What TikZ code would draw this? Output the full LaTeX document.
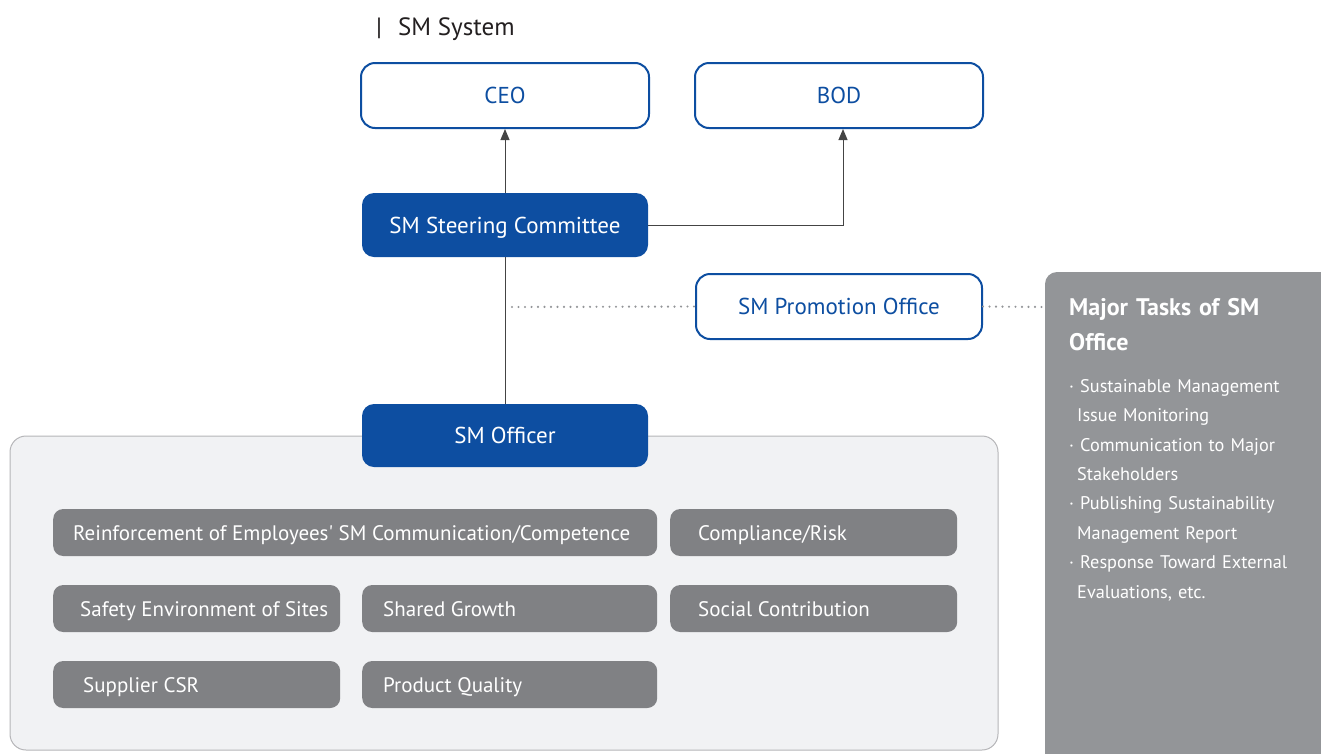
\documentclass[tikz,border=0pt]{standalone}
\usepackage{fontspec}
\setmainfont{PT Sans}
\usetikzlibrary{arrows.meta}
\definecolor{smblue}{HTML}{0D4EA1}
\definecolor{gboxc}{HTML}{808184}
\definecolor{tpanel}{HTML}{939598}
\definecolor{lpanel}{HTML}{F1F2F4}
\definecolor{lborder}{HTML}{B5B5B8}
\definecolor{linec}{HTML}{444444}
\definecolor{dotc}{HTML}{939598}
\definecolor{titlec}{HTML}{231F20}
\newcommand{\gtext}[3]{\makebox[#1pt][l]{\hspace*{#2pt}#3}}
\tikzset{
  obox/.style={draw=smblue, line width=2pt, fill=white, rounded corners=14pt, text=smblue,
    minimum width=288pt, minimum height=65pt, inner sep=0pt, text height=18pt, text depth=2pt,
    font=\fontsize{23}{27}\selectfont},
  fbox/.style={fill=smblue, rounded corners=12pt, text=white,
    minimum width=286pt, minimum height=64pt, inner sep=0pt, text height=18pt, text depth=2pt,
    font=\fontsize{23}{27}\selectfont},
  gbox/.style={fill=gboxc, rounded corners=10pt, text=white, minimum height=47pt,
    anchor=west, inner sep=0pt, text height=17pt, text depth=2pt, font=\fontsize{21}{25}\selectfont},
  arr/.style={draw=linec, line width=1pt, -{Triangle[length=11pt,width=9pt]}},
  conn/.style={draw=linec, line width=1pt},
  dots/.style={draw=dotc, line width=2.4pt, dash pattern=on 0pt off 6.5pt, line cap=round},
}
\begin{document}
\begin{tikzpicture}[x=1pt,y=-1pt]
\useasboundingbox (0,0) rectangle (1321,753);
\clip (0,0) rectangle (1321,753);
% title
\node[anchor=west, text=titlec, inner sep=0pt, font=\fontsize{25}{29}\selectfont] (title) at (376,29) {|\hspace{16pt}SM System};
% right panel
\fill[tpanel, rounded corners=12pt] (1045,272) rectangle (1345,780);
\coordinate (tp) at (1045,307);
\node[anchor=north west, text=white, text width=250pt, inner sep=0pt, align=left,
  font=\fontsize{24}{35}\selectfont\bfseries] (tasktitle) at (1069,298) {Major Tasks of SM\\Office};
\node[anchor=north west, text=white, text width=250pt, inner sep=0pt, align=left,
  font=\fontsize{18.3}{29.4}\selectfont] (tasks) at (1069,379) {%
  · Sustainable Management\\ \hspace*{8pt}Issue Monitoring\\
  · Communication to Major\\ \hspace*{8pt}Stakeholders\\
  · Publishing Sustainability\\ \hspace*{8pt}Management Report\\
  · Response Toward External\\ \hspace*{8pt}Evaluations, etc.};
% light panel
\node[draw=lborder, line width=1pt, fill=lpanel, rounded corners=16pt, minimum width=988pt,
  minimum height=314pt, inner sep=0pt] (panel) at (504,593) {};
% boxes
\node[obox] (ceo) at (505,95.5) {CEO};
\node[obox] (bod) at (839,95.5) {BOD};
\node[fbox] (steer) at (505,225) {SM Steering Committee};
\node[obox, minimum width=286pt] (promo) at (839,306.5) {SM Promotion Office};
\node[fbox, minimum height=63pt] (officer) at (505,435.5) {SM Officer};
% gray boxes
\node[gbox] (g1) at (53,532.5) {\gtext{604}{20}{Reinforcement of Employees\textquotesingle\ SM Communication/Competence}};
\node[gbox] (g2) at (670,532.5) {\gtext{287}{28}{Compliance/Risk}};
\node[gbox] (g3) at (53,608.5) {\gtext{287}{27}{Safety Environment of Sites}};
\node[gbox] (g4) at (362,608.5) {\gtext{295}{21}{Shared Growth}};
\node[gbox] (g5) at (670,608.5) {\gtext{287}{28}{Social Contribution}};
\node[gbox] (g6) at (53,684.5) {\gtext{287}{30}{Supplier CSR}};
\node[gbox] (g7) at (362,684.5) {\gtext{295}{21}{Product Quality}};
% connectors
\draw[arr] (steer.north) -- (ceo.south);
\draw[arr] (steer.east) -| ([xshift=4pt]bod.south);
\draw[conn] (steer.south) -- (officer.north);
\coordinate (dl) at (512,307);
\draw[dots] (dl) -- (promo.west);
\draw[dots] (promo.east) -- (tp);
\end{tikzpicture}
\end{document}
